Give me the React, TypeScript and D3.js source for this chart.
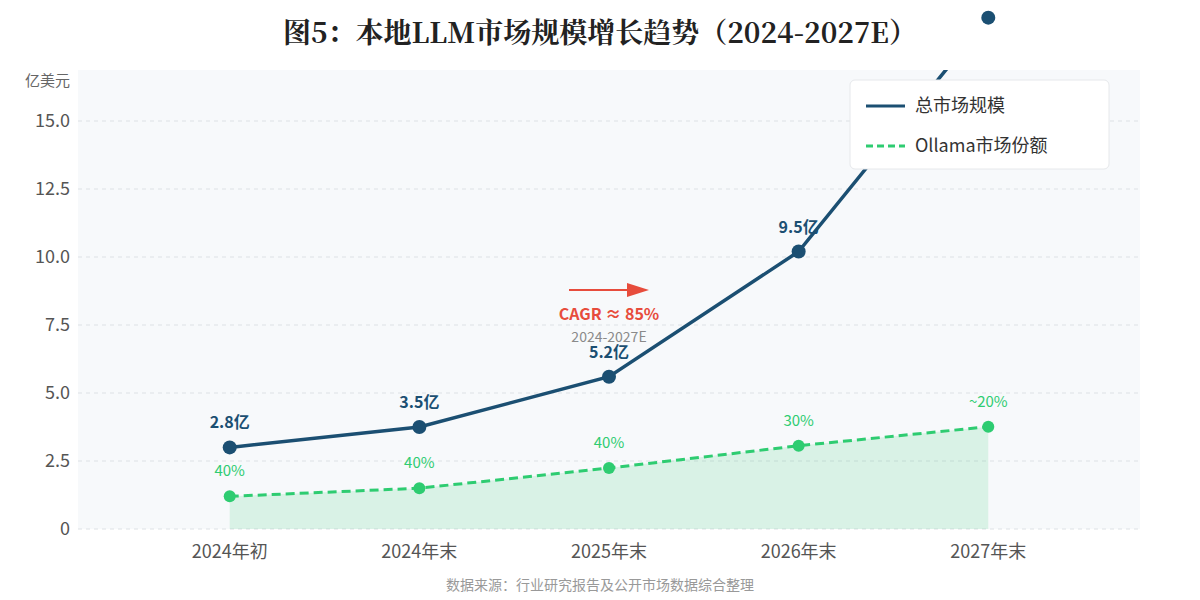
import * as d3 from "d3";
import { useEffect, useRef } from "react";

// 数据
const categories = ["2024年初", "2024年末", "2025年末", "2026年末", "2027年末"];
const totalMarket = [3.0, 3.75, 5.6, 10.2, 18.8];
const ollamaShare = [1.2, 1.5, 2.24, 3.06, 3.76];
const totalLabels = ["2.8亿", "3.5亿", "5.2亿", "9.5亿", ""];
const shareLabels = ["40%", "40%", "40%", "30%", "~20%"];
const yTicks = [0, 2.5, 5, 7.5, 10, 12.5, 15];
const yMax = 16.875;

const BLUE = "#1b4f72";
const GREEN = "#2ecc71";
const RED = "#e74c3c";
const SANS = "'Noto Sans CJK SC', 'Noto Sans', sans-serif";

const App = () => {
    const ref = useRef<SVGSVGElement | null>(null);

    const width = 1200;
    const height = 600;
    const plot = { left: 78, right: 1140, top: 70, bottom: 529 };

    useEffect(() => {
        const svg = d3.select(ref.current);
        svg.selectAll("*").remove();

        const x = d3.scalePoint<string>().domain(categories).range([plot.left, plot.right]).padding(0.8);
        const y = d3.scaleLinear().domain([0, yMax]).range([plot.bottom, plot.top]);

        // 标题
        svg.append("text")
            .attr("x", width / 2).attr("y", 43)
            .attr("text-anchor", "middle")
            .style("font-family", "'Noto Serif CJK SC', 'Noto Serif', serif")
            .style("font-size", "28px").style("font-weight", "bold")
            .style("fill", "#222")
            .text("图5：本地LLM市场规模增长趋势（2024-2027E）");

        // 绘图区背景
        svg.append("rect")
            .attr("x", plot.left).attr("y", plot.top)
            .attr("width", plot.right - plot.left).attr("height", plot.bottom - plot.top)
            .style("fill", "#f7f9fb");

        svg.append("defs").append("clipPath").attr("id", "plot-clip")
            .append("rect")
            .attr("x", plot.left).attr("y", plot.top)
            .attr("width", plot.right - plot.left).attr("height", plot.bottom - plot.top);

        // 网格线
        svg.append("g").selectAll("line").data(yTicks).enter().append("line")
            .attr("x1", plot.left).attr("x2", plot.right)
            .attr("y1", d => y(d)).attr("y2", d => y(d))
            .style("stroke", "#dde1e5").style("stroke-width", 1)
            .style("stroke-dasharray", "4,4");

        // Y轴刻度
        svg.append("g").selectAll("text").data(yTicks).enter().append("text")
            .attr("x", 70).attr("y", d => y(d))
            .attr("dy", "0.35em").attr("text-anchor", "end")
            .style("font-family", SANS).style("font-size", "18px").style("fill", "#555")
            .text(d => (d === 0 ? "0" : d.toFixed(1)));

        svg.append("text")
            .attr("x", 70).attr("y", 86).attr("text-anchor", "end")
            .style("font-family", SANS).style("font-size", "15px").style("fill", "#666")
            .text("亿美元");

        // X轴标签
        svg.append("g").selectAll("text").data(categories).enter().append("text")
            .attr("x", d => x(d)!).attr("y", 558)
            .attr("text-anchor", "middle")
            .style("font-family", SANS).style("font-size", "18px").style("fill", "#555")
            .text(d => d);

        const clipped = svg.append("g").attr("clip-path", "url(#plot-clip)");

        // Ollama 面积
        const area = d3.area<number>()
            .x((_, i) => x(categories[i])!)
            .y0(y(0))
            .y1(d => y(d));
        clipped.append("path")
            .datum(ollamaShare)
            .attr("d", area)
            .style("fill", GREEN).style("fill-opacity", 0.15);

        const line = d3.line<number>()
            .x((_, i) => x(categories[i])!)
            .y(d => y(d));

        // 总市场规模
        clipped.append("path")
            .datum(totalMarket)
            .attr("d", line)
            .style("fill", "none").style("stroke", BLUE).style("stroke-width", 3.5);

        // Ollama 市场份额
        clipped.append("path")
            .datum(ollamaShare)
            .attr("d", line)
            .style("fill", "none").style("stroke", GREEN).style("stroke-width", 3)
            .style("stroke-dasharray", "9,5");

        svg.append("g").selectAll("circle").data(ollamaShare).enter().append("circle")
            .attr("cx", (_, i) => x(categories[i])!).attr("cy", d => y(d))
            .attr("r", 6).style("fill", GREEN);

        svg.append("g").selectAll("circle").data(totalMarket).enter().append("circle")
            .attr("cx", (_, i) => x(categories[i])!).attr("cy", d => y(d))
            .attr("r", 7).style("fill", BLUE);

        // 数据标签
        svg.append("g").selectAll("text").data(totalMarket).enter().append("text")
            .attr("x", (_, i) => x(categories[i])!).attr("y", d => y(d) - 19)
            .attr("text-anchor", "middle")
            .style("font-family", SANS).style("font-size", "16px").style("font-weight", "bold")
            .style("fill", BLUE)
            .text((_, i) => totalLabels[i]);

        svg.append("g").selectAll("text").data(ollamaShare).enter().append("text")
            .attr("x", (_, i) => x(categories[i])!).attr("y", d => y(d) - 20)
            .attr("text-anchor", "middle")
            .style("font-family", SANS).style("font-size", "15px")
            .style("fill", GREEN)
            .text((_, i) => shareLabels[i]);

        // CAGR 标注
        const cx = x(categories[2])!;
        svg.append("line")
            .attr("x1", cx - 40).attr("x2", cx + 22)
            .attr("y1", 290).attr("y2", 290)
            .style("stroke", RED).style("stroke-width", 2);
        svg.append("path")
            .attr("d", `M${cx + 18},${283} L${cx + 40},${290} L${cx + 18},${297} Z`)
            .style("fill", RED);

        svg.append("text")
            .attr("x", cx).attr("y", 320).attr("text-anchor", "middle")
            .style("font-family", SANS).style("font-size", "16px").style("font-weight", "bold")
            .style("fill", RED)
            .text("CAGR ≈ 85%");

        svg.append("text")
            .attr("x", cx).attr("y", 342).attr("text-anchor", "middle")
            .style("font-family", SANS).style("font-size", "14px")
            .style("fill", "#8a8a8a")
            .text("2024-2027E");

        // 图例
        const lg = svg.append("g").attr("transform", "translate(850,80)");
        lg.append("rect")
            .attr("width", 259).attr("height", 89).attr("rx", 5)
            .style("fill", "#fff").style("stroke", "#e6e8eb");
        lg.append("line")
            .attr("x1", 16).attr("x2", 55).attr("y1", 26).attr("y2", 26)
            .style("stroke", BLUE).style("stroke-width", 3);
        lg.append("text")
            .attr("x", 65).attr("y", 26).attr("dy", "0.35em")
            .style("font-family", SANS).style("font-size", "18px").style("fill", "#333")
            .text("总市场规模");
        lg.append("line")
            .attr("x1", 16).attr("x2", 55).attr("y1", 66).attr("y2", 66)
            .style("stroke", GREEN).style("stroke-width", 3)
            .style("stroke-dasharray", "7,4");
        lg.append("text")
            .attr("x", 65).attr("y", 66).attr("dy", "0.35em")
            .style("font-family", SANS).style("font-size", "18px").style("fill", "#333")
            .text("Ollama市场份额");

        // 数据来源
        svg.append("text")
            .attr("x", width / 2).attr("y", 590).attr("text-anchor", "middle")
            .style("font-family", SANS).style("font-size", "14px").style("fill", "#999")
            .text("数据来源：行业研究报告及公开市场数据综合整理");
    }, []);

    return (
        <svg ref={ref} width={width} height={height}
            style={{ position: "absolute", left: 0, top: 0, display: "block" }}></svg>
    );
};

export default App;
